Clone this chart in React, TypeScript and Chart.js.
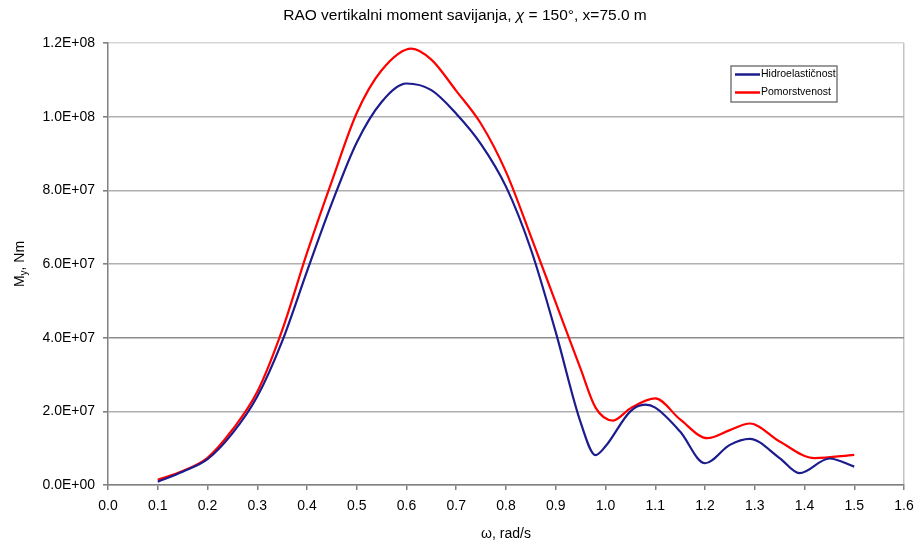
import React, { useEffect, useRef } from "react";
import { Chart, registerables } from "chart.js";

Chart.register(...registerables);

const titleParts = ["RAO vertikalni moment savijanja, ", "\u03c7", " = 150\u00b0, x=75.0 m"];
const xAxisTitle = "\u03c9, rad/s";
const yAxisTitleMain = "M";
const yAxisTitleSub = "y";
const yAxisTitleRest = ", Nm";

const seriesNames = ["Hidroelasti\u010dnost", "Pomorstvenost"];
const seriesColors = ["#1c1c8e", "#ff0000"];

const omegaHidro = [0.10, 0.15, 0.20, 0.25, 0.30, 0.35, 0.40, 0.45, 0.50, 0.55, 0.60, 0.65, 0.70, 0.75, 0.80, 0.85, 0.90, 0.95, 0.98, 1.00, 1.05, 1.08, 1.10, 1.15, 1.20, 1.25, 1.29, 1.35, 1.39, 1.45, 1.50];
const hidro = [0.9e6, 3.6e6, 7.0e6, 1.4e7, 2.4e7, 3.9e7, 5.8e7, 7.65e7, 9.3e7, 1.04e8, 1.09e8, 1.072e8, 1.008e8, 9.25e7, 8.1e7, 6.4e7, 4.15e7, 1.7e7, 8.1e6, 1.05e7, 2.0e7, 2.18e7, 2.1e7, 1.45e7, 5.9e6, 1.09e7, 1.25e7, 7.3e6, 3.2e6, 7.2e6, 5.0e6];

const omegaPomor = [0.10, 0.15, 0.20, 0.25, 0.30, 0.35, 0.40, 0.45, 0.50, 0.55, 0.61, 0.65, 0.70, 0.75, 0.80, 0.85, 0.90, 0.95, 0.98, 1.015, 1.05, 1.10, 1.15, 1.205, 1.25, 1.29, 1.35, 1.42, 1.50];
const pomor = [1.4e6, 3.8e6, 7.4e6, 1.5e7, 2.53e7, 4.2e7, 6.3e7, 8.25e7, 1.01e8, 1.126e8, 1.185e8, 1.155e8, 1.07e8, 9.8e7, 8.5e7, 6.75e7, 4.95e7, 3.15e7, 2.1e7, 1.75e7, 2.08e7, 2.35e7, 1.78e7, 1.27e7, 1.49e7, 1.67e7, 1.18e7, 7.3e6, 8.2e6];

const xMin = 0, xMax = 1.6, xStep = 0.1;
const yMin = 0, yMax = 1.2e8, yStep = 2e7;

function fmtExp(v: number): string {
  const s = v.toExponential(1);
  const [m, e] = s.split("e");
  const n = parseInt(e, 10);
  const sign = n < 0 ? "-" : "+";
  const abs = Math.abs(n).toString().padStart(2, "0");
  return `${m}E${sign}${abs}`;
}

const FONT = "'Liberation Sans', Arial, sans-serif";

const customPlugin = {
  id: "customDecor",
  afterDraw(chart: any) {
    const ctx = chart.ctx as CanvasRenderingContext2D;
    const area = chart.chartArea;

    // Title with italic chi
    ctx.save();
    ctx.fillStyle = "#000";
    ctx.textBaseline = "middle";
    ctx.textAlign = "left";
    const tFonts = [`15.5px ${FONT}`, `italic 15.5px ${FONT}`, `15.5px ${FONT}`];
    let tw = 0;
    const widths = titleParts.map((p, i) => {
      ctx.font = tFonts[i];
      const w = ctx.measureText(p).width;
      tw += w;
      return w;
    });
    let tx = 465 - tw / 2;
    titleParts.forEach((p, i) => {
      ctx.font = tFonts[i];
      ctx.fillText(p, tx, 16);
      tx += widths[i];
    });
    ctx.restore();

    // Y axis title with subscript
    ctx.save();
    ctx.translate(20, (area.top + area.bottom) / 2);
    ctx.rotate(-Math.PI / 2);
    ctx.fillStyle = "#000";
    ctx.textBaseline = "middle";
    ctx.textAlign = "left";
    const fMain = `14px ${FONT}`;
    const fSub = `10px ${FONT}`;
    ctx.font = fMain;
    const wM = ctx.measureText(yAxisTitleMain).width;
    const wR = ctx.measureText(yAxisTitleRest).width;
    ctx.font = fSub;
    const wS = ctx.measureText(yAxisTitleSub).width;
    let x = -(wM + wS + wR) / 2;
    ctx.font = fMain;
    ctx.fillText(yAxisTitleMain, x, 0);
    x += wM;
    ctx.font = fSub;
    ctx.fillText(yAxisTitleSub, x, 4);
    x += wS;
    ctx.font = fMain;
    ctx.fillText(yAxisTitleRest, x, 0);
    ctx.restore();

    // Legend box
    const bx = 731, by = 66, bw = 106, bh = 36;
    ctx.save();
    ctx.fillStyle = "#ffffff";
    ctx.fillRect(bx, by, bw, bh);
    ctx.strokeStyle = "#7a7a7a";
    ctx.lineWidth = 1.5;
    ctx.strokeRect(bx, by, bw, bh);
    ctx.font = `10.5px ${FONT}`;
    ctx.textBaseline = "middle";
    ctx.textAlign = "left";
    chart.data.datasets.forEach((ds: any, i: number) => {
      const yy = by + 8.5 + i * 18;
      ctx.strokeStyle = ds.borderColor;
      ctx.lineWidth = 2.5;
      ctx.beginPath();
      ctx.moveTo(bx + 4, yy);
      ctx.lineTo(bx + 29, yy);
      ctx.stroke();
      ctx.fillStyle = "#000";
      ctx.fillText(ds.label, bx + 30, yy);
    });
    ctx.restore();
  },
};

export default function App() {
  const ref = useRef<HTMLCanvasElement | null>(null);
  useEffect(() => {
    if (!ref.current) return;
    const chart = new Chart(ref.current, {
      type: "line",
      data: {
        datasets: [
          {
            label: seriesNames[0],
            data: omegaHidro.map((x, i) => ({ x, y: hidro[i] })),
            borderColor: seriesColors[0],
            backgroundColor: seriesColors[0],
            borderWidth: 2.2,
            pointRadius: 0,
            cubicInterpolationMode: "monotone",
            fill: false,
          },
          {
            label: seriesNames[1],
            data: omegaPomor.map((x, i) => ({ x, y: pomor[i] })),
            borderColor: seriesColors[1],
            backgroundColor: seriesColors[1],
            borderWidth: 2.2,
            pointRadius: 0,
            cubicInterpolationMode: "monotone",
            fill: false,
          },
        ],
      },
      options: {
        animation: false,
        responsive: false,
        layout: { padding: { left: 0, right: 0, top: 43, bottom: 0 } },
        plugins: {
          legend: { display: false },
          tooltip: { enabled: false },
          title: { display: false },
        },
        scales: {
          x: {
            type: "linear",
            min: xMin,
            max: xMax,
            afterFit(scale: any) {
              scale.height = 58;
              scale.paddingRight = 11;
              scale.paddingLeft = 10;
            },
            ticks: {
              stepSize: xStep,
              color: "#000",
              font: { family: FONT, size: 14 },
              padding: 8,
              maxRotation: 0,
              autoSkip: false,
              callback: (v: any) => Number(v).toFixed(1),
            },
            grid: {
              color: (c: any) => (c.tick && Math.abs(c.tick.value - xMax) < 1e-9 ? "#c4c4c4" : "rgba(0,0,0,0)"),
              tickColor: "#808080",
              tickLength: 5,
              lineWidth: 1.5,
            },
            border: { display: true, color: "#808080", width: 1.5 },
            title: {
              display: true,
              text: xAxisTitle,
              color: "#000",
              font: { family: FONT, size: 14 },
              padding: { top: 0, bottom: 0 },
            },
          },
          y: {
            type: "linear",
            min: yMin,
            max: yMax,
            afterFit(scale: any) {
              scale.width = 108;
            },
            ticks: {
              stepSize: yStep,
              color: "#000",
              font: { family: FONT, size: 14 },
              padding: 8,
              callback: (v: any) => fmtExp(Number(v)),
            },
            grid: {
              color: (c: any) => {
                const v = c.tick ? c.tick.value : 0;
                if (Math.abs(v - yMax) < 1) return "#d6d6d6";
                if (Math.abs(v - 4e7) < 1) return "#8c8c8c";
                return "#b0b0b0";
              },
              tickColor: "#808080",
              tickLength: 5,
              lineWidth: 1.6,
            },
            border: { display: true, color: "#808080", width: 1.5 },
          },
        },
      },
      plugins: [customPlugin],
    } as any);
    return () => chart.destroy();
  }, []);
  return (
    <div style={{ position: "absolute", left: 0, top: 0, width: 915, height: 543, background: "#fff" }}>
      <canvas ref={ref} width={915} height={543} style={{ display: "block" }} />
    </div>
  );
}
